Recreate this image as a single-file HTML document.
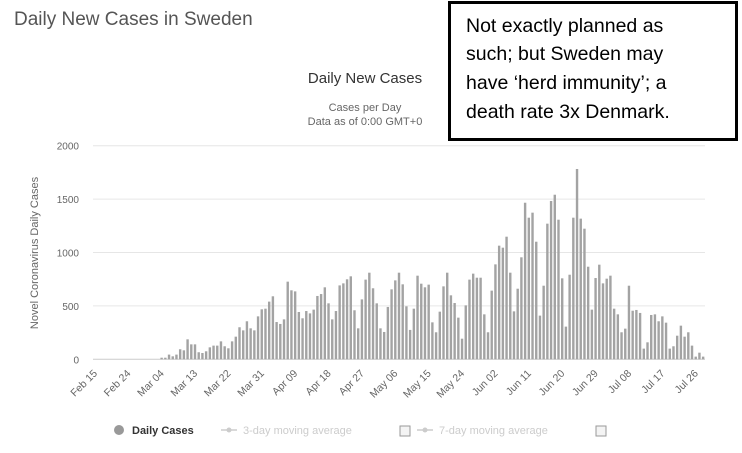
<!DOCTYPE html>
<html><head><meta charset="utf-8"><style>
body{margin:0;width:742px;height:453px;background:#fff;overflow:hidden;font-family:"Liberation Sans",sans-serif;}
svg{position:absolute;left:0;top:0}
</style></head><body>
<svg width="742" height="453" id="chart">
<text x="14" y="25" font-size="19" fill="#555">Daily New Cases in Sweden</text>
<text x="365" y="83" font-size="15" fill="#333" text-anchor="middle">Daily New Cases</text>
<text x="365" y="111" font-size="11" fill="#666" text-anchor="middle">Cases per Day</text>
<text x="365" y="125" font-size="11" fill="#666" text-anchor="middle">Data as of 0:00 GMT+0</text>
<g id="grid"></g><g id="bars"></g><g id="xlabels"></g>
<text transform="translate(38,253) rotate(-90)" font-size="11" fill="#666" text-anchor="middle">Novel Coronavirus Daily Cases</text>
<g>
<g><circle cx="119" cy="430" r="5" fill="#999"/><text x="132" y="434" font-size="11" font-weight="bold" fill="#333">Daily Cases</text></g>
<g><line x1="221" y1="430" x2="237" y2="430" stroke="#ccc" stroke-width="1.5"/><circle cx="229" cy="430" r="2.5" fill="#ccc"/><text x="243" y="434" font-size="11" fill="#ccc">3-day moving average</text></g>
<rect x="400" y="426" width="10" height="10" fill="#f4f4f4" stroke="#999"/>
<g><line x1="417" y1="430" x2="433" y2="430" stroke="#ccc" stroke-width="1.5"/><circle cx="425" cy="430" r="2.5" fill="#ccc"/><text x="439" y="434" font-size="11" fill="#ccc">7-day moving average</text></g>
<rect x="596" y="426" width="10" height="10" fill="#f4f4f4" stroke="#999"/>
</g>
<g>
<rect x="449.5" y="2.5" width="287" height="137" fill="#fff" stroke="#000" stroke-width="3"/>
<text font-size="19.5" fill="#000" x="466"><tspan x="466" y="32">Not exactly planned as</tspan><tspan x="466" y="60">such; but Sweden may</tspan><tspan x="466" y="89">have ‘herd immunity’; a</tspan><tspan x="466" y="118">death rate 3x Denmark.</tspan></text>
</g>
</svg>
<script>
const yTicks=[0,500,1000,1500,2000];
const startDate=[2020,1,15];
const leadingZeros=18;
const cases=[15,15,44,28,44,94,84,187,140,140,66,59,75,112,128,128,168,122,103,168,212,300,271,356,290,271,402,468,474,540,590,349,331,374,727,646,636,443,384,452,430,465,593,611,674,524,374,452,692,711,749,777,459,290,561,746,811,665,524,290,256,490,655,739,811,702,496,275,
474,783,708,674,699,346,253,446,683,811,599,527,390,193,505,746,802,764,764,421,253,643,889,1064,1045,1148,811,449,661,955,1466,1326,1373,1101,409,689,1270,1482,1541,1307,758,306,792,1326,1782,1317,1223,867,465,761,886,711,755,783,474,421,253,287,689,455,462,434,100,159,415,421,356,402,343,100,122,221,315,212,253,128,25,62,25];
const labelEvery=9;
const NS="http://www.w3.org/2000/svg";
const series=[];for(let i=0;i<leadingZeros;i++)series.push(0);cases.forEach(v=>series.push(v));
const x0=93,x1=705,yBase=359.3,yTop=145.7;
const bw=(x1-x0)/series.length;
const y=v=>yBase-(v/2000)*(yBase-yTop);
const xc=i=>x0+(i+0.5)*bw;
const grid=document.getElementById('grid');
yTicks.forEach(t=>{
 const l=document.createElementNS(NS,'line');
 l.setAttribute('x1',x0);l.setAttribute('x2',x1);l.setAttribute('y1',y(t));l.setAttribute('y2',y(t));
 l.setAttribute('stroke',t===0?'#ccc':'#e6e6e6');
 
 
 grid.appendChild(l);
 const tx=document.createElementNS(NS,'text');
 tx.setAttribute('x',79);tx.setAttribute('y',y(t)+4);tx.setAttribute('text-anchor','end');
 tx.setAttribute('font-size','10');tx.setAttribute('fill','#666');tx.textContent=t;
 
 
 grid.appendChild(tx);
});
const bars=document.getElementById('bars');
series.forEach((v,i)=>{
 if(v<=0)return;
 const r=document.createElementNS(NS,'rect');
 r.setAttribute('x',xc(i)-1.2);r.setAttribute('width',2.4);
 r.setAttribute('y',y(v));r.setAttribute('height',yBase-y(v));
 r.setAttribute('fill','#a3a3a3');
 
 
 bars.appendChild(r);
});
const months=['Jan','Feb','Mar','Apr','May','Jun','Jul','Aug'];
const xl=document.getElementById('xlabels');
for(let i=0;i<series.length;i+=labelEvery){
 const d=new Date(startDate[0],startDate[1],startDate[2]+i);
 const s=months[d.getMonth()]+' '+String(d.getDate()).padStart(2,'0');
 const t=document.createElementNS(NS,'text');
 t.setAttribute('transform','translate('+(xc(i)+3)+',374) rotate(-45)');
 t.setAttribute('text-anchor','end');t.setAttribute('font-size','10.5');t.setAttribute('fill','#666');
 t.textContent=s;
 
 
 xl.appendChild(t);
}
</script>
</body></html>
